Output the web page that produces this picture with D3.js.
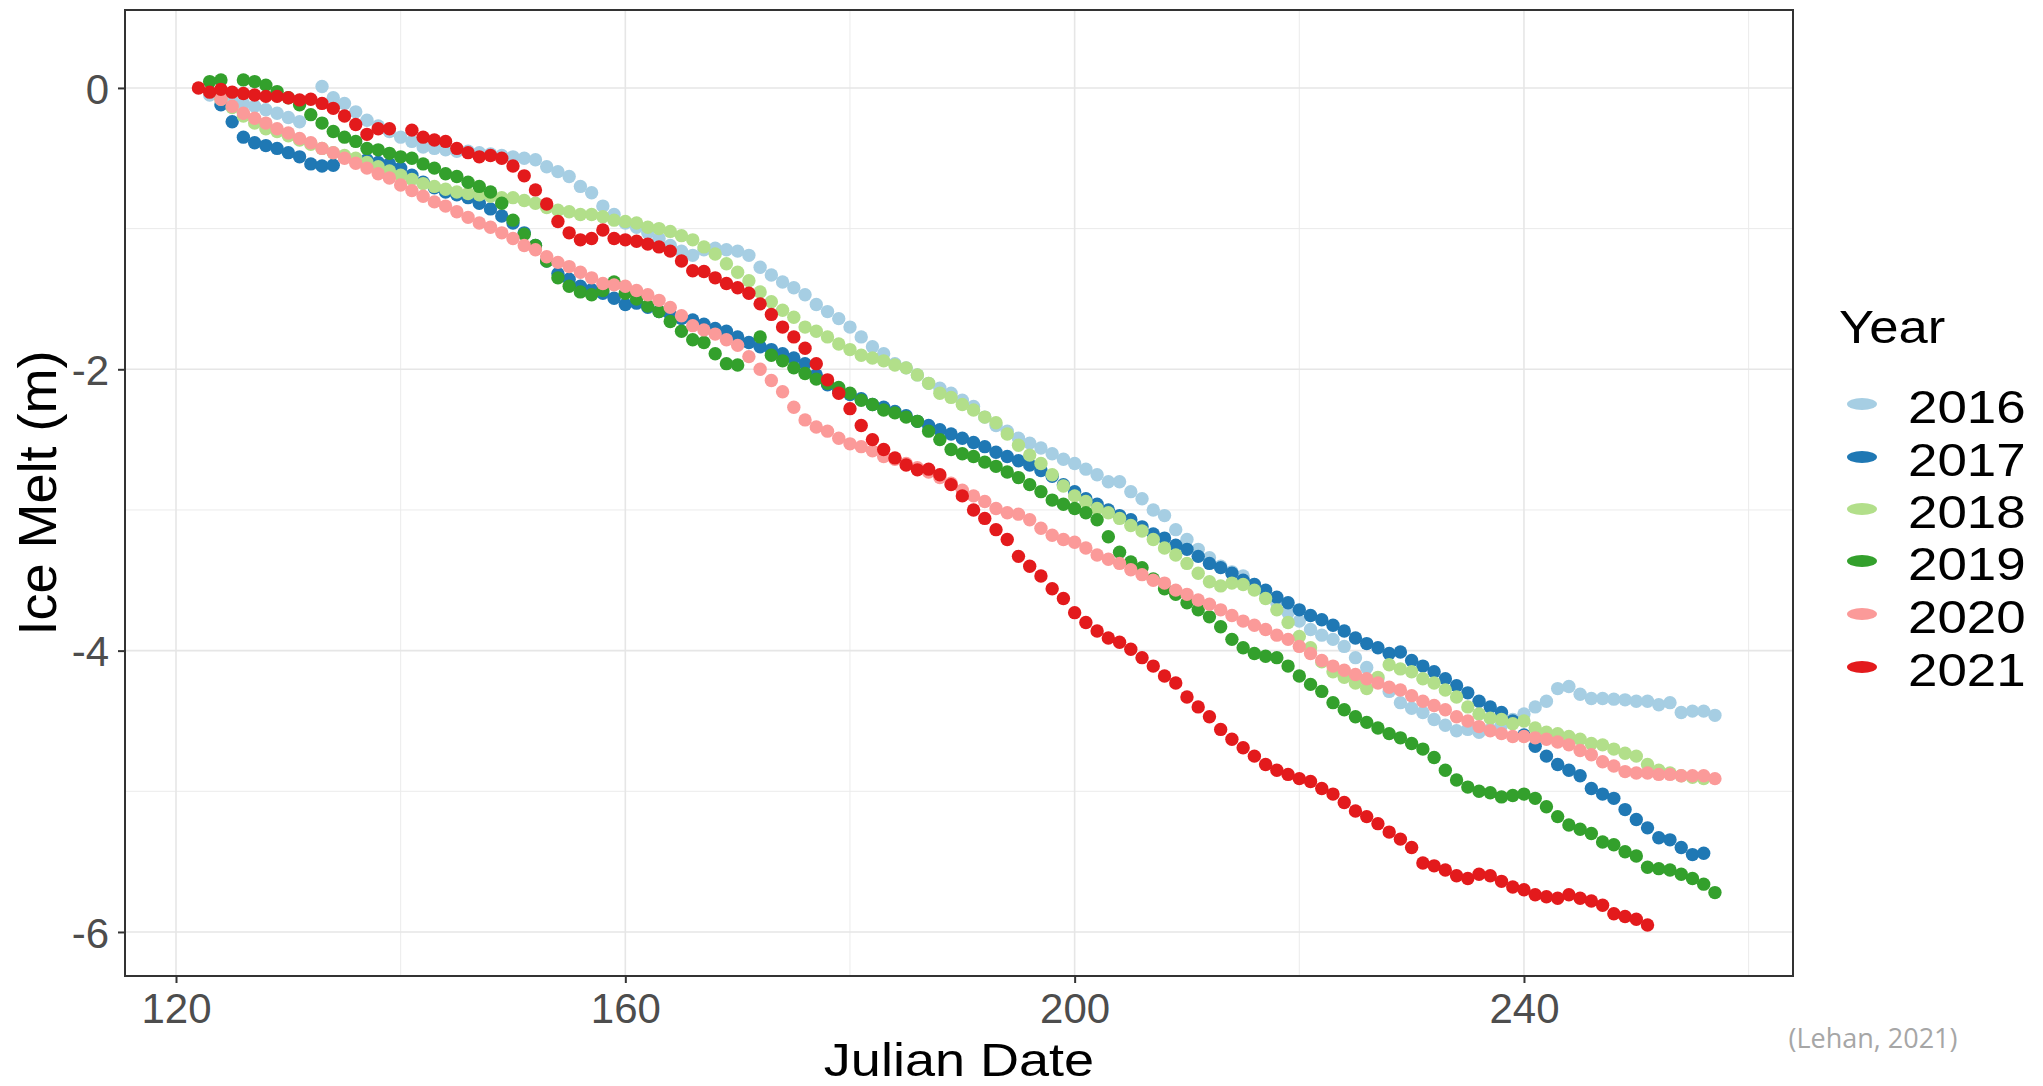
<!DOCTYPE html>
<html><head><meta charset="utf-8">
<script src="https://cdn.jsdelivr.net/npm/d3@7"></script>
<style>body{margin:0;background:#fff} svg{display:block}</style>
</head><body>
<svg id="chart" width="2043" height="1086"></svg>
<script>
// ---- data ----
const years = ["2016","2017","2018","2019","2020","2021"];
const colors = ["#A6CEE3","#1F78B4","#B2DF8A","#33A02C","#FB9A99","#E31A1C"];
// first Julian day of each series (values are daily, null = no reading)
const startDays = [123,124,124,123,124,122];

const melt2016 = [-0.05,-0.07,-0.09,-0.11,-0.13,-0.155,-0.18,-0.21,-0.24,null,
 0.01,-0.07,-0.11,-0.17,-0.23,-0.27,-0.31,-0.35,-0.38,-0.42,
 -0.43,-0.44,-0.45,-0.45,-0.46,-0.47,-0.48,-0.49,-0.50,-0.51,
 -0.56,-0.595,-0.63,-0.70,-0.745,-0.84,-0.90,-0.96,-0.99,-1.03,
 -1.07,-1.12,-1.16,-1.19,-1.15,-1.14,-1.15,-1.16,-1.19,-1.275,
 -1.33,-1.38,-1.42,-1.47,-1.54,-1.59,-1.64,-1.70,-1.77,-1.84,
 -1.89,-1.96,-1.99,-2.04,-2.10,-2.135,-2.17,-2.22,-2.265,-2.34,
 -2.40,-2.44,-2.49,-2.525,-2.56,-2.60,-2.64,-2.67,-2.71,-2.75,
 -2.80,-2.80,-2.87,-2.92,-3.00,-3.04,-3.14,-3.21,-3.28,-3.34,
 -3.40,-3.44,-3.47,-3.53,-3.59,-3.66,-3.73,-3.79,-3.85,-3.89,
 -3.92,-3.97,-4.05,-4.12,-4.20,-4.29,-4.37,-4.41,-4.44,-4.49,
 -4.53,-4.57,-4.56,-4.58,-4.56,-4.53,-4.49,-4.45,-4.40,-4.36,
 -4.27,-4.255,-4.31,-4.34,-4.34,-4.345,-4.35,-4.36,-4.36,-4.385,
 -4.37,-4.44,-4.43,-4.43,-4.46];

const melt2017 = [-0.12,-0.24,-0.35,-0.39,-0.41,-0.43,-0.46,-0.49,-0.54,-0.555,
 -0.55,null,null,-0.51,-0.53,-0.54,-0.57,-0.62,-0.67,-0.71,
 -0.74,-0.76,-0.78,-0.82,-0.86,-0.91,-0.96,-1.03,-1.12,-1.23,
 -1.32,-1.36,-1.41,-1.435,-1.46,-1.495,-1.54,-1.53,-1.56,-1.59,
 -1.61,-1.64,-1.65,-1.68,-1.71,-1.73,-1.77,-1.81,-1.84,-1.86,
 -1.89,-1.92,-1.96,-2.04,-2.11,-2.15,-2.18,-2.21,-2.25,-2.27,
 -2.30,-2.33,-2.37,-2.40,-2.43,-2.46,-2.49,-2.52,-2.55,-2.59,
 -2.62,-2.65,-2.68,-2.72,-2.76,-2.82,-2.87,-2.92,-2.96,-3.00,
 -3.04,-3.07,-3.12,-3.17,-3.20,-3.25,-3.28,-3.33,-3.38,-3.41,
 -3.45,-3.50,-3.53,-3.57,-3.62,-3.66,-3.71,-3.75,-3.78,-3.82,
 -3.86,-3.91,-3.95,-3.98,-4.02,-4.01,-4.07,-4.11,-4.15,-4.20,
 -4.25,-4.30,-4.36,-4.40,-4.44,-4.50,-4.60,-4.68,-4.75,-4.81,
 -4.85,-4.89,-4.98,-5.02,-5.05,-5.13,-5.20,-5.26,-5.33,-5.345,
 -5.40,-5.45,-5.44];

const melt2018 = [-0.08,-0.14,-0.20,-0.25,-0.29,-0.31,-0.34,-0.37,-0.40,-0.43,
 -0.46,-0.48,-0.50,-0.53,-0.56,-0.59,-0.62,-0.65,-0.68,-0.70,
 -0.72,-0.74,-0.75,-0.76,-0.77,-0.78,-0.78,-0.80,-0.82,-0.85,
 -0.87,-0.88,-0.90,-0.90,-0.915,-0.94,-0.95,-0.96,-0.99,-1.00,
 -1.02,-1.05,-1.08,-1.13,-1.18,-1.25,-1.31,-1.37,-1.45,-1.52,
 -1.58,-1.63,-1.70,-1.73,-1.77,-1.82,-1.86,-1.90,-1.92,-1.94,
 -1.97,-1.99,-2.04,-2.10,-2.17,-2.20,-2.25,-2.29,-2.34,-2.38,
 -2.46,-2.54,-2.61,-2.67,-2.75,-2.83,-2.90,-2.94,-2.99,-3.02,
 -3.06,-3.11,-3.15,-3.21,-3.27,-3.32,-3.38,-3.45,-3.51,-3.54,
 -3.52,-3.53,-3.57,-3.63,-3.71,-3.80,-3.90,-3.98,-4.08,-4.15,
 -4.19,-4.23,-4.27,-4.19,-4.10,-4.13,-4.15,-4.20,-4.23,-4.28,
 -4.33,-4.40,-4.45,-4.48,-4.49,-4.52,-4.50,-4.55,-4.58,-4.59,
 -4.61,-4.63,-4.66,-4.67,-4.70,-4.73,-4.75,-4.81,-4.85,-4.87,
 -4.89,-4.90,-4.91];

const melt2019 = [0.045,0.057,null,0.057,0.045,0.02,-0.026,-0.07,-0.12,-0.19,
 -0.25,-0.31,-0.35,-0.38,-0.43,-0.44,-0.465,-0.49,-0.50,-0.54,
 -0.57,-0.61,-0.63,-0.67,-0.70,-0.74,-0.82,-0.94,-1.04,-1.12,
 -1.23,-1.35,-1.41,-1.45,-1.47,-1.44,-1.38,-1.46,-1.50,-1.55,
 -1.59,-1.66,-1.73,-1.79,-1.81,-1.89,-1.96,-1.97,null,-1.77,
 -1.90,-1.94,-1.99,-2.03,-2.07,-2.10,-2.13,-2.17,-2.22,-2.25,
 -2.29,-2.31,-2.34,-2.37,-2.44,-2.50,-2.57,-2.60,-2.62,-2.66,
 -2.69,-2.73,-2.77,-2.82,-2.87,-2.93,-2.96,-2.99,-3.02,-3.07,
 -3.19,-3.30,-3.37,-3.41,-3.49,-3.56,-3.60,-3.66,-3.71,-3.76,
 -3.83,-3.92,-3.98,-4.02,-4.04,-4.05,-4.11,-4.18,-4.24,-4.29,
 -4.37,-4.42,-4.47,-4.51,-4.55,-4.59,-4.62,-4.66,-4.70,-4.76,
 -4.85,-4.92,-4.97,-5.00,-5.01,-5.04,-5.03,-5.02,-5.05,-5.11,
 -5.18,-5.24,-5.27,-5.30,-5.36,-5.38,-5.43,-5.46,-5.54,-5.55,
 -5.56,-5.59,-5.62,-5.66,-5.72];

const melt2020 = [-0.08,-0.13,-0.18,-0.215,-0.25,-0.29,-0.32,-0.36,-0.39,-0.43,
 -0.46,-0.50,-0.535,-0.57,-0.61,-0.64,-0.69,-0.73,-0.77,-0.81,
 -0.84,-0.88,-0.92,-0.96,-0.99,-1.03,-1.07,-1.12,-1.15,-1.20,
 -1.24,-1.27,-1.31,-1.35,-1.39,-1.40,-1.41,-1.44,-1.47,-1.51,
 -1.56,-1.62,-1.69,-1.72,-1.75,-1.79,-1.83,-1.91,-2.00,-2.08,
 -2.16,-2.27,-2.36,-2.41,-2.44,-2.49,-2.53,-2.55,-2.58,-2.62,
 -2.64,-2.67,-2.70,-2.73,-2.77,-2.81,-2.86,-2.90,-2.94,-2.99,
 -3.02,-3.03,-3.07,-3.13,-3.18,-3.21,-3.23,-3.27,-3.32,-3.35,
 -3.38,-3.425,-3.46,-3.50,-3.52,-3.57,-3.60,-3.64,-3.67,-3.71,
 -3.75,-3.79,-3.82,-3.85,-3.89,-3.92,-3.97,-4.02,-4.07,-4.11,
 -4.14,-4.17,-4.20,-4.23,-4.26,-4.28,-4.32,-4.36,-4.39,-4.42,
 -4.47,-4.50,-4.54,-4.57,-4.59,-4.61,-4.61,-4.62,-4.63,-4.65,
 -4.67,-4.71,-4.74,-4.79,-4.82,-4.86,-4.87,-4.87,-4.88,-4.88,
 -4.89,-4.89,-4.89,-4.91];

const melt2021 = [0,-0.03,-0.01,-0.03,-0.04,-0.05,-0.06,-0.06,-0.07,-0.085,
 -0.08,-0.11,-0.145,-0.20,-0.26,-0.33,-0.29,-0.29,null,-0.30,
 -0.35,-0.37,-0.38,-0.43,-0.46,-0.49,-0.48,-0.50,-0.555,-0.625,
 -0.725,-0.825,-0.95,-1.03,-1.08,-1.07,-1.01,-1.07,-1.08,-1.09,
 -1.11,-1.13,-1.16,-1.23,-1.30,-1.305,-1.35,-1.39,-1.42,-1.46,
 -1.535,-1.61,-1.70,-1.77,-1.85,-1.96,-2.075,-2.17,-2.28,-2.40,
 -2.50,-2.57,-2.63,-2.68,-2.715,-2.71,-2.75,-2.82,-2.90,-3.00,
 -3.06,-3.14,-3.21,-3.33,-3.40,-3.47,-3.56,-3.63,-3.73,-3.80,
 -3.86,-3.91,-3.94,-3.99,-4.05,-4.11,-4.18,-4.23,-4.33,-4.40,
 -4.47,-4.56,-4.63,-4.69,-4.75,-4.81,-4.85,-4.88,-4.91,-4.93,
 -4.98,-5.02,-5.08,-5.14,-5.18,-5.23,-5.29,-5.34,-5.40,-5.51,
 -5.53,-5.56,-5.60,-5.62,-5.59,-5.60,-5.64,-5.68,-5.70,-5.735,
 -5.75,-5.76,-5.735,-5.76,-5.78,-5.81,-5.87,-5.89,-5.91,-5.95];

const seriesValues = [melt2016, melt2017, melt2018, melt2019, melt2020, melt2021];

const xTicks = [120, 160, 200, 240];
const xMinor = [140, 180, 220, 260];
const yTicks = [0, -2, -4, -6];
const yMinor = [-1, -3, -5];

// ---- drawing ----
const FONT = "'Liberation Sans', Arial, Helvetica, sans-serif";
const svg = d3.select("#chart");
const P = {left: 125, right: 1793, top: 10, bottom: 976};
const x = d3.scaleLinear().domain([115.46, 263.95]).range([P.left, P.right]);
const y = d3.scaleLinear().domain([-6.313, 0.554]).range([P.bottom, P.top]);

svg.append("rect").attr("width", 2043).attr("height", 1086).attr("fill", "#fff");

const grid = svg.append("g");
grid.selectAll(".vmin").data(xMinor).join("line")
  .attr("x1", d => x(d)).attr("x2", d => x(d)).attr("y1", P.top).attr("y2", P.bottom)
  .attr("stroke", "#EBEBEB").attr("stroke-width", 1);
grid.selectAll(".hmin").data(yMinor).join("line")
  .attr("x1", P.left).attr("x2", P.right).attr("y1", d => y(d)).attr("y2", d => y(d))
  .attr("stroke", "#EBEBEB").attr("stroke-width", 1);
grid.selectAll(".vmaj").data(xTicks).join("line")
  .attr("x1", d => x(d)).attr("x2", d => x(d)).attr("y1", P.top).attr("y2", P.bottom)
  .attr("stroke", "#E6E6E6").attr("stroke-width", 1.6);
grid.selectAll(".hmaj").data(yTicks).join("line")
  .attr("x1", P.left).attr("x2", P.right).attr("y1", d => y(d)).attr("y2", d => y(d))
  .attr("stroke", "#E6E6E6").attr("stroke-width", 1.6);

// points
const pts = svg.append("g");
years.forEach((yr, i) => {
  const data = seriesValues[i]
    .map((v, k) => ({day: startDays[i] + k, v}))
    .filter(d => d.v !== null);
  pts.append("g").selectAll("circle").data(data).join("circle")
    .attr("cx", d => x(d.day)).attr("cy", d => y(d.v)).attr("r", 6.7)
    .attr("fill", colors[i]);
});

// panel border
svg.append("rect").attr("x", P.left).attr("y", P.top)
  .attr("width", P.right - P.left).attr("height", P.bottom - P.top)
  .attr("fill", "none").attr("stroke", "#333333").attr("stroke-width", 2);

// axes
const xAxis = svg.append("g").attr("transform", `translate(0,${P.bottom})`)
  .call(d3.axisBottom(x).tickValues(xTicks).tickSize(7).tickPadding(10).tickFormat(d3.format("d")));
const yAxis = svg.append("g").attr("transform", `translate(${P.left},0)`)
  .call(d3.axisLeft(y).tickValues(yTicks).tickSize(7).tickPadding(10).tickFormat(d => d === 0 ? "0" : "-" + Math.abs(d)));
[xAxis, yAxis].forEach(a => {
  a.select(".domain").remove();
  a.selectAll(".tick line").attr("stroke", "#333333").attr("stroke-width", 2);
  a.selectAll(".tick text").attr("fill", "#4D4D4D").style("font-family", FONT).style("font-size", "42px");
});
xAxis.selectAll(".tick text").attr("dy", null).attr("y", 47);
yAxis.selectAll(".tick text").attr("dy", "0.36em").attr("x", -16);

// axis titles (slightly wide lettering, as in the reference)
svg.append("text").attr("transform", `translate(${(P.left + P.right) / 2},1076) scale(1.15,1)`)
  .attr("text-anchor", "middle").style("font-family", FONT).style("font-size", "47px")
  .attr("fill", "#000").text("Julian Date");
svg.append("text").attr("transform", `translate(56,${(P.top + P.bottom) / 2}) rotate(-90)`)
  .attr("text-anchor", "middle").style("font-family", FONT).style("font-size", "54px")
  .attr("fill", "#000").text("Ice Melt (m)");

// legend
const lg = svg.append("g");
lg.append("text").attr("transform", "translate(1839,343) scale(1.12,1)").style("font-family", FONT)
  .style("font-size", "47px").attr("fill", "#000").text("Year");
const legendBase = [423, 476, 528, 580, 633, 686];
years.forEach((yr, i) => {
  lg.append("ellipse").attr("cx", 1862).attr("cy", legendBase[i] - 19)
    .attr("rx", 15).attr("ry", 6).attr("fill", colors[i]);
  lg.append("text").attr("transform", `translate(1908,${legendBase[i]}) scale(1.15,1)`)
    .style("font-family", FONT).style("font-size", "46px").attr("fill", "#000").text(yr);
});

// source note
svg.append("text").attr("x", 1873).attr("y", 1048).attr("text-anchor", "middle")
  .style("font-family", "'Open Sans', 'Noto Sans', sans-serif").style("font-size", "27px")
  .attr("fill", "#A6A6A6").text("(Lehan, 2021)");
</script>
</body></html>
